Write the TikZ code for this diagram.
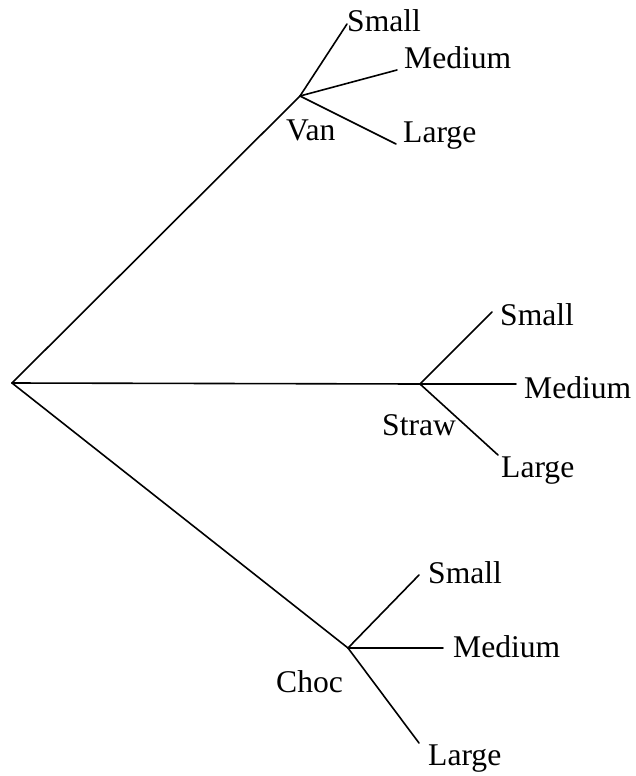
\documentclass[tikz,border=0pt]{standalone}
\usepackage{fontspec}
\setmainfont{Liberation Serif}
\begin{document}
\begin{tikzpicture}[x=1pt,y=-1pt,
  edge/.style={line width=1.6pt,line cap=round,line join=round},
  lbl/.style={anchor=base west,inner sep=0pt,font=\fontsize{31.6}{38}\selectfont}]
\useasboundingbox (0,0) rectangle (636,776);
% points
\coordinate (root) at (12,383);
\coordinate (van) at (300,96);
\coordinate (straw) at (420,384);
\coordinate (choc) at (348,648);
\coordinate (vs) at (347,24);
\coordinate (vm) at (397,70);
\coordinate (vl) at (396,144);
\coordinate (ss) at (492,312);
\coordinate (sm) at (516,384);
\coordinate (sl) at (498,455);
\coordinate (cs) at (419,575);
\coordinate (cm) at (443,648);
\coordinate (cl) at (419,743);
% edges
\draw[edge] (root) -- (van);
\draw[edge] (root) -- (straw);
\draw[edge] (root) -- (choc);
\draw[edge] (van) -- (vs);
\draw[edge] (van) -- (vm);
\draw[edge] (van) -- (vl);
\draw[edge] (straw) -- (ss);
\draw[edge] (straw) -- (sm);
\draw[edge] (straw) -- (sl);
\draw[edge] (choc) -- (cs);
\draw[edge] (choc) -- (cm);
\draw[edge] (choc) -- (cl);
% labels
\node[lbl] (tvan) at (286,140) {Van};
\node[lbl] (tvs) at (347,32) {Small};
\node[lbl] (tvm) at (404,68) {Medium};
\node[lbl] (tvl) at (403,142) {Large};
\node[lbl] (tstraw) at (382,435) {Straw};
\node[lbl] (tss) at (500,325) {Small};
\node[lbl] (tsm) at (524,398) {Medium};
\node[lbl] (tsl) at (501,477) {Large};
\node[lbl] (tchoc) at (276,692) {Choc};
\node[lbl] (tcs) at (428,583) {Small};
\node[lbl] (tcm) at (453,657) {Medium};
\node[lbl] (tcl) at (428,765) {Large};
\end{tikzpicture}
\end{document}
